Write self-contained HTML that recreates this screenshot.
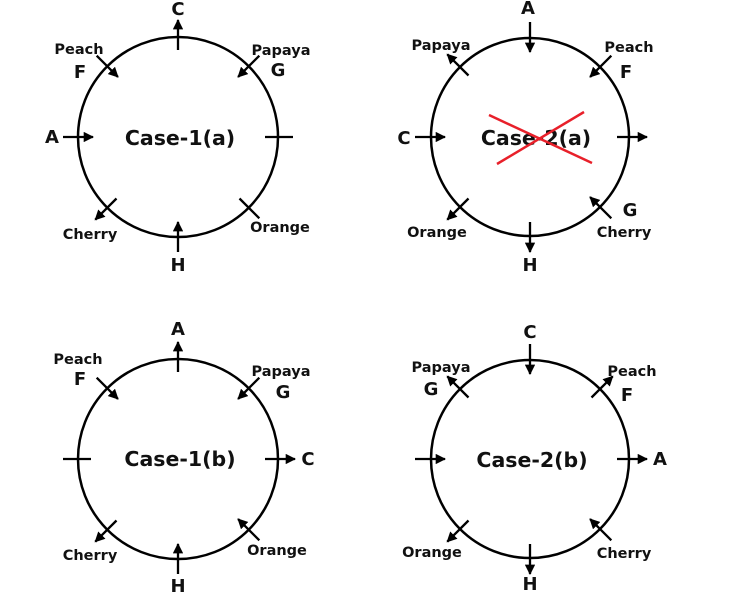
<!DOCTYPE html>
<html><head><meta charset="utf-8"><style>
html,body{margin:0;padding:0;background:#fff;width:752px;height:606px;overflow:hidden}
</style></head><body>
<svg width="752" height="606" viewBox="0 0 752 606" xmlns="http://www.w3.org/2000/svg">
<defs><marker id="a" viewBox="0 0 10 10" refX="9" refY="5" markerWidth="4.5" markerHeight="4.5" orient="auto"><path d="M0,0 L10,5 L0,10 z" fill="#000"/></marker></defs>
<g fill="none" stroke="#000" stroke-width="2.5">
<circle cx="178" cy="137" r="100"/><circle cx="530" cy="137" r="99"/>
<circle cx="178" cy="459" r="100"/><circle cx="530" cy="459" r="99"/>
</g>
<g stroke="#000" stroke-width="2.3">
<line x1="178" y1="50" x2="178" y2="20" marker-end="url(#a)"/>
<line x1="259.3" y1="55.7" x2="238.1" y2="76.9" marker-end="url(#a)"/>
<line x1="265" y1="137" x2="293" y2="137"/>
<line x1="239.5" y1="198.5" x2="259.3" y2="218.3"/>
<line x1="178" y1="252" x2="178" y2="222" marker-end="url(#a)"/>
<line x1="116.5" y1="198.5" x2="95.3" y2="219.7" marker-end="url(#a)"/>
<line x1="63" y1="137" x2="93" y2="137" marker-end="url(#a)"/>
<line x1="96.7" y1="55.7" x2="117.9" y2="76.9" marker-end="url(#a)"/>

<line x1="530" y1="22" x2="530" y2="52" marker-end="url(#a)"/>
<line x1="611.3" y1="55.7" x2="590.1" y2="76.9" marker-end="url(#a)"/>
<line x1="617" y1="137" x2="647" y2="137" marker-end="url(#a)"/>
<line x1="611.3" y1="218.3" x2="590.1" y2="197.1" marker-end="url(#a)"/>
<line x1="530" y1="222" x2="530" y2="252" marker-end="url(#a)"/>
<line x1="468.5" y1="198.5" x2="447.3" y2="219.7" marker-end="url(#a)"/>
<line x1="415" y1="137" x2="445" y2="137" marker-end="url(#a)"/>
<line x1="468.5" y1="75.5" x2="447.3" y2="54.3" marker-end="url(#a)"/>

<line x1="178" y1="372" x2="178" y2="342" marker-end="url(#a)"/>
<line x1="259.3" y1="377.7" x2="238.1" y2="398.9" marker-end="url(#a)"/>
<line x1="265" y1="459" x2="295" y2="459" marker-end="url(#a)"/>
<line x1="259.3" y1="540.3" x2="238.1" y2="519.1" marker-end="url(#a)"/>
<line x1="178" y1="574" x2="178" y2="544" marker-end="url(#a)"/>
<line x1="116.5" y1="520.5" x2="95.3" y2="541.7" marker-end="url(#a)"/>
<line x1="91" y1="459" x2="63" y2="459"/>
<line x1="96.7" y1="377.7" x2="117.9" y2="398.9" marker-end="url(#a)"/>

<line x1="530" y1="344" x2="530" y2="374" marker-end="url(#a)"/>
<line x1="591.5" y1="397.5" x2="612.7" y2="376.3" marker-end="url(#a)"/>
<line x1="617" y1="459" x2="647" y2="459" marker-end="url(#a)"/>
<line x1="611.3" y1="540.3" x2="590.1" y2="519.1" marker-end="url(#a)"/>
<line x1="530" y1="544" x2="530" y2="574" marker-end="url(#a)"/>
<line x1="468.5" y1="520.5" x2="447.3" y2="541.7" marker-end="url(#a)"/>
<line x1="415" y1="459" x2="445" y2="459" marker-end="url(#a)"/>
<line x1="468.5" y1="397.5" x2="447.3" y2="376.3" marker-end="url(#a)"/>
</g>
<g text-anchor="middle" font-family="DejaVu Sans, Liberation Sans, sans-serif" font-weight="bold" fill="#111">
<g font-size="18">
<text x="178" y="15">C</text>
<text x="80" y="78">F</text>
<text x="278" y="76">G</text>
<text x="52" y="143">A</text>
<text x="178" y="271">H</text>
<text x="528" y="14">A</text>
<text x="626" y="78">F</text>
<text x="404" y="144">C</text>
<text x="630" y="216">G</text>
<text x="530" y="271">H</text>
<text x="178" y="335">A</text>
<text x="80" y="385">F</text>
<text x="283" y="398">G</text>
<text x="308" y="465">C</text>
<text x="178" y="592">H</text>
<text x="530" y="338">C</text>
<text x="431" y="395">G</text>
<text x="627" y="401">F</text>
<text x="660" y="465">A</text>
<text x="530" y="590">H</text>
</g>
<g font-size="14.5">
<text x="79" y="54">Peach</text>
<text x="281" y="55">Papaya</text>
<text x="90" y="239">Cherry</text>
<text x="280" y="232">Orange</text>
<text x="441" y="50">Papaya</text>
<text x="629" y="52">Peach</text>
<text x="624" y="237">Cherry</text>
<text x="437" y="237">Orange</text>
<text x="78" y="364">Peach</text>
<text x="281" y="376">Papaya</text>
<text x="90" y="560">Cherry</text>
<text x="277" y="555">Orange</text>
<text x="441" y="372">Papaya</text>
<text x="632" y="376">Peach</text>
<text x="624" y="558">Cherry</text>
<text x="432" y="557">Orange</text>
</g>
<g font-size="20.5">
<text x="180" y="145">Case-1(a)</text>
<text x="536" y="145">Case-2(a)</text>
<text x="180" y="466">Case-1(b)</text>
<text x="532" y="467">Case-2(b)</text>
</g>
</g>
<g stroke="#e8202a" stroke-width="2.5">
<line x1="489" y1="115" x2="592" y2="163"/>
<line x1="584" y1="112" x2="497" y2="164"/>
</g>
</svg>
</body></html>
